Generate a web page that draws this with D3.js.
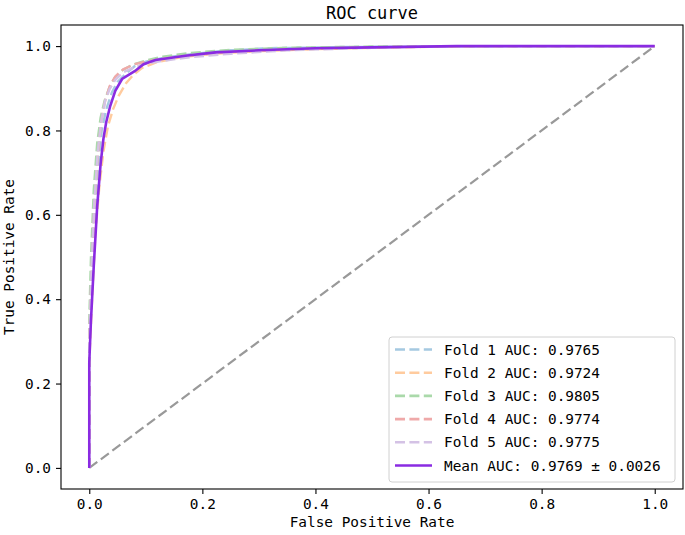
<!DOCTYPE html>
<html>
<head>
<meta charset="utf-8">
<script src="https://cdn.jsdelivr.net/npm/d3@7"></script>
<style>
  body { margin: 0; background: #fff; }
  text { font-family: "DejaVu Sans Mono", "Liberation Mono", monospace; fill: #000; }
</style>
</head>
<body>
<div id="wrapper"></div>
<script>
// ROC points, one pair of arrays per fold
const fold1Fpr = [0, 0, 0.004, 0.01, 0.016, 0.022, 0.03, 0.04, 0.05, 0.065, 0.08, 0.1, 0.13, 0.18, 0.25, 0.32, 0.45, 0.6, 0.75, 1]
const fold1Tpr = [0, 0.3, 0.45, 0.6, 0.72, 0.8, 0.85, 0.89, 0.915, 0.935, 0.952, 0.963, 0.972, 0.981, 0.99, 0.995, 0.998, 0.999, 1, 1]
const fold2Fpr = [0, 0, 0.005, 0.011, 0.018, 0.025, 0.033, 0.042, 0.052, 0.065, 0.078, 0.093, 0.12, 0.16, 0.22, 0.3, 0.4, 0.55, 0.7, 1]
const fold2Tpr = [0, 0.25, 0.4, 0.56, 0.67, 0.75, 0.81, 0.85, 0.882, 0.912, 0.932, 0.948, 0.962, 0.973, 0.982, 0.988, 0.993, 0.997, 1, 1]
const fold3Fpr = [0, 0, 0.003, 0.008, 0.014, 0.02, 0.027, 0.035, 0.045, 0.058, 0.075, 0.1, 0.13, 0.18, 0.25, 0.35, 0.5, 0.65, 1]
const fold3Tpr = [0, 0.35, 0.5, 0.66, 0.77, 0.83, 0.87, 0.9, 0.925, 0.942, 0.955, 0.966, 0.975, 0.984, 0.991, 0.996, 0.999, 1, 1]
const fold4Fpr = [0, 0, 0.004, 0.009, 0.015, 0.021, 0.028, 0.036, 0.046, 0.06, 0.08, 0.1, 0.13, 0.18, 0.25, 0.35, 0.5, 0.65, 1]
const fold4Tpr = [0, 0.3, 0.46, 0.62, 0.74, 0.82, 0.87, 0.905, 0.928, 0.945, 0.957, 0.963, 0.97, 0.978, 0.986, 0.992, 0.997, 1, 1]
const fold5Fpr = [0, 0, 0.004, 0.009, 0.015, 0.021, 0.028, 0.036, 0.046, 0.06, 0.08, 0.1, 0.13, 0.18, 0.25, 0.35, 0.5, 0.65, 1]
const fold5Tpr = [0, 0.3, 0.47, 0.63, 0.75, 0.82, 0.87, 0.898, 0.92, 0.938, 0.95, 0.958, 0.965, 0.974, 0.982, 0.99, 0.996, 1, 1]
const meanFpr = [0, 0, 0.003, 0.008, 0.014, 0.02, 0.025, 0.03, 0.037, 0.046, 0.058, 0.081, 0.096, 0.117, 0.17, 0.223, 0.3, 0.4, 0.5, 0.65, 1]
const meanTpr = [0, 0.25, 0.35, 0.48, 0.62, 0.72, 0.78, 0.82, 0.858, 0.894, 0.922, 0.941, 0.957, 0.967, 0.977, 0.985, 0.99, 0.995, 0.997, 1, 1]

const foldLabels = ["Fold 1 AUC: 0.9765", "Fold 2 AUC: 0.9724", "Fold 3 AUC: 0.9805", "Fold 4 AUC: 0.9774", "Fold 5 AUC: 0.9775"]
const meanLabel = "Mean AUC: 0.9769 \u00b1 0.0026"
const foldColors = ["#a5c9e1", "#ffcb9e", "#aad9aa", "#efa9a9", "#d4c2e5"]
const tickValues = [0, 0.2, 0.4, 0.6, 0.8, 1.0]

const folds = [
    [fold1Fpr, fold1Tpr], [fold2Fpr, fold2Tpr], [fold3Fpr, fold3Tpr],
    [fold4Fpr, fold4Tpr], [fold5Fpr, fold5Tpr]
].map(([f, t]) => f.map((v, i) => [v, t[i]]))
const meanCurve = meanFpr.map((v, i) => [v, meanTpr[i]])

const dims = { width: 685, height: 535, left: 61, right: 683, top: 25, bottom: 489 }

const svg = d3.select("#wrapper").append("svg")
    .attr("width", dims.width)
    .attr("height", dims.height)

// matplotlib style 5% padding on both axes
const x = d3.scaleLinear().domain([-0.05, 1.05]).range([dims.left, dims.right])
const y = d3.scaleLinear().domain([-0.05, 1.05]).range([dims.bottom, dims.top])

const line = d3.line().x(d => x(d[0])).y(d => y(d[1]))

// chance diagonal
svg.append("path")
    .attr("d", line([[0, 0], [1, 1]]))
    .attr("fill", "none")
    .attr("stroke", "#999")
    .attr("stroke-width", 2.2)
    .attr("stroke-dasharray", "10,4.4")

folds.forEach((pts, i) => {
    svg.append("path")
        .attr("d", line(pts))
        .attr("fill", "none")
        .attr("stroke", foldColors[i])
        .attr("stroke-width", 2.4)
        .attr("stroke-dasharray", "10,4.4")
})

svg.append("path")
    .attr("d", line(meanCurve))
    .attr("fill", "none")
    .attr("stroke", "#8a2be2")
    .attr("stroke-width", 2.6)

// axes
const xAxis = svg.append("g")
    .attr("transform", `translate(0,${dims.bottom})`)
    .call(d3.axisBottom(x).tickValues(tickValues).tickFormat(d3.format(".1f")).tickSizeOuter(0).tickSize(5).tickPadding(5))
const yAxis = svg.append("g")
    .attr("transform", `translate(${dims.left},0)`)
    .call(d3.axisLeft(y).tickValues(tickValues).tickFormat(d3.format(".1f")).tickSizeOuter(0).tickSize(5).tickPadding(5))
;[xAxis, yAxis].forEach(g => {
    g.select(".domain").remove()
    g.selectAll("line").attr("stroke", "#000").attr("stroke-width", 1.1)
    g.selectAll("text").style("font-size", "14.4px").style("font-family", "DejaVu Sans Mono")
})

svg.append("rect")
    .attr("x", dims.left).attr("y", dims.top)
    .attr("width", dims.right - dims.left).attr("height", dims.bottom - dims.top)
    .attr("fill", "none").attr("stroke", "#000").attr("stroke-width", 1.1)

// labels
svg.append("text")
    .attr("x", (dims.left + dims.right) / 2).attr("y", 19)
    .attr("text-anchor", "middle").style("font-size", "17px")
    .text("ROC curve")
svg.append("text")
    .attr("x", (dims.left + dims.right) / 2).attr("y", 527)
    .attr("text-anchor", "middle").style("font-size", "14.4px")
    .text("False Positive Rate")
svg.append("text")
    .attr("transform", `translate(14,${(dims.top + dims.bottom) / 2}) rotate(-90)`)
    .attr("text-anchor", "middle").style("font-size", "14.4px")
    .text("True Positive Rate")

// legend
const legend = svg.append("g")
legend.append("rect")
    .attr("x", 389).attr("y", 337).attr("width", 286).attr("height", 145)
    .attr("rx", 3).attr("fill", "#fff").attr("fill-opacity", 0.8)
    .attr("stroke", "#d0d0d0").attr("stroke-width", 1)

const entries = foldLabels.map((t, i) => ({ text: t, color: foldColors[i], dash: "10,4.4" }))
entries.push({ text: meanLabel, color: "#8a2be2", dash: null })
entries.forEach((e, i) => {
    const cy = 349.5 + i * 23.2
    legend.append("line")
        .attr("x1", 395).attr("x2", 432).attr("y1", cy).attr("y2", cy)
        .attr("stroke", e.color).attr("stroke-width", 2.6)
        .attr("stroke-dasharray", e.dash)
    legend.append("text")
        .attr("x", 444).attr("y", cy + 5)
        .style("font-size", "14.4px")
        .text(e.text)
})
</script>
</body>
</html>
